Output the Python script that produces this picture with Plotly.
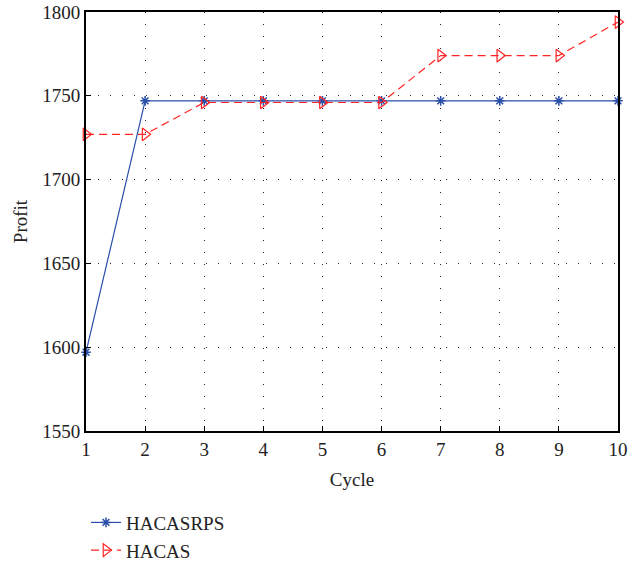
import plotly.graph_objects as go

cycles = [1, 2, 3, 4, 5, 6, 7, 8, 9, 10]
hacasrps = [1597, 1747, 1747, 1747, 1747, 1747, 1747, 1747, 1747, 1747]
hacas = [1727, 1727, 1746, 1746, 1746, 1746, 1774, 1774, 1774, 1794]
yticks = [1550, 1600, 1650, 1700, 1750, 1800]

FONT = "Liberation Serif"
TXT = "#222222"

fig = go.Figure()
fig.add_trace(go.Scatter(
    x=cycles, y=hacasrps, name="HACASRPS", mode="lines+markers",
    line=dict(color="#2a4fa8", width=1.2),
    marker=dict(symbol="asterisk-open", size=8, color="#2a4fa8", line=dict(width=1.5, color="#2a4fa8")),
    cliponaxis=False,
))
fig.add_trace(go.Scatter(
    x=cycles, y=hacas, name="HACAS", mode="lines+markers",
    line=dict(color="#ff2525", width=1.2, dash="8px,5px"),
    marker=dict(symbol="triangle-right-open", size=11, color="#ff2525", line=dict(width=1.2, color="#ff2525")),
    cliponaxis=False,
))

axis_common = dict(
    showline=True, linecolor="black", linewidth=2, mirror=True,
    ticks="inside", ticklen=5, tickcolor="black",
    showgrid=True, gridcolor="#222222", griddash="1px,11px", gridwidth=1,
    zeroline=False, automargin=False,
    tickfont=dict(family=FONT, size=19, color=TXT),
)

fig.update_xaxes(range=[1, 10], tickvals=cycles,
                 title=dict(text="Cycle", font=dict(family=FONT, size=19, color=TXT), standoff=14),
                 **axis_common)
fig.update_yaxes(range=[1550, 1800], tickvals=yticks,
                 title=dict(text="Profit", font=dict(family=FONT, size=19, color=TXT), standoff=10),
                 **axis_common)

fig.update_layout(
    width=628, height=569,
    margin=dict(l=86, r=10, t=12, b=138, autoexpand=False),
    plot_bgcolor="white", paper_bgcolor="white",
    font=dict(family=FONT, size=19, color=TXT),
    legend=dict(x=0.0, y=0.115, xref="paper", yref="container", xanchor="left", yanchor="top",
                font=dict(family=FONT, size=19, color=TXT),
                bgcolor="rgba(0,0,0,0)", tracegroupgap=0),
    showlegend=True,
)

fig.write_html("out.html")
